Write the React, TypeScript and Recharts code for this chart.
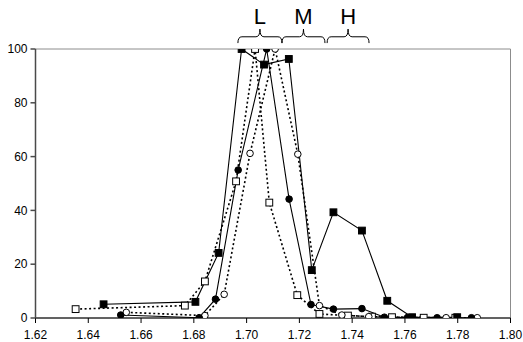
import React from 'react';
import { LineChart, Line, XAxis, YAxis, ReferenceArea } from 'recharts';

// Series: filled squares (solid line)
const filledSquareX = [1.6458, 1.6806, 1.6894, 1.6981, 1.7066, 1.7160, 1.7247, 1.7329, 1.7437, 1.7533, 1.7627, 1.7798];
const filledSquareY = [5.1, 6.0, 24.2, 100, 94.2, 96.3, 17.8, 39.3, 32.5, 6.4, 0.3, 0.3];

// Series: filled circles (solid line)
const filledCircleX = [1.6523, 1.6820, 1.6882, 1.6968, 1.7076, 1.7161, 1.7244, 1.7329, 1.7437, 1.7522, 1.7610, 1.7722, 1.7852];
const filledCircleY = [1.1, 0.1, 7.0, 55, 100, 44.2, 5.0, 3.3, 3.5, 0.3, 0.2, 0.1, 0.1];

// Series: open squares (dotted line)
const openSquareX = [1.6352, 1.6766, 1.6842, 1.6960, 1.7032, 1.7086, 1.7192, 1.7276, 1.7384, 1.7475, 1.7551, 1.7671, 1.7791];
const openSquareY = [3.3, 4.6, 13.6, 50.8, 100, 42.9, 8.5, 1.5, 0.9, 0.5, 0.3, 0.1, 0.1];

// Series: open circles (dotted line)
const openCircleX = [1.6544, 1.6842, 1.6915, 1.7013, 1.7108, 1.7194, 1.7276, 1.7361, 1.7463, 1.7756, 1.7874];
const openCircleY = [2.1, 0.9, 8.8, 61.2, 100, 60.9, 4.6, 1.1, 0.5, 0.1, 0.1];

const xTicks = [1.62, 1.64, 1.66, 1.68, 1.70, 1.72, 1.74, 1.76, 1.78, 1.80];
const yTicks = [0, 20, 40, 60, 80, 100];

// Brace annotations: label, start, end
const braceLabels = ['L', 'M', 'H'];
const braceStart = [1.6967, 1.7134, 1.7305];
const braceEnd = [1.7134, 1.7297, 1.7464];
const braceBottom = 102.2;
const braceTop = 107.4;

const zip = (xs: number[], ys: number[]) => xs.map((x, i) => ({ x, y: ys[i] }));

const FONT = 'Arial, "Liberation Sans", sans-serif';

const SquareDot = (filled: boolean) => (props: any) => {
  const { cx, cy, index } = props;
  if (cx == null || cy == null) return <g key={index} />;
  return (
    <rect
      key={index}
      x={cx - 3.4}
      y={cy - 3.4}
      width={6.8}
      height={6.8}
      fill={filled ? '#000' : '#fff'}
      stroke="#000"
      strokeWidth={1}
    />
  );
};

const CircleDot = (filled: boolean) => (props: any) => {
  const { cx, cy, index } = props;
  if (cx == null || cy == null) return <g key={index} />;
  return (
    <circle key={index} cx={cx} cy={cy} r={3.3} fill={filled ? '#000' : '#fff'} stroke="#000" strokeWidth={1} />
  );
};

const Brace = (label: string) => (props: any) => {
  const { x, y, width, height } = props;
  const cx = x + width / 2;
  const my = y + height * 0.55;
  const r = Math.min(4, width / 6);
  const d = `M ${x} ${y + height} Q ${x} ${my} ${x + r} ${my} L ${cx - r} ${my} Q ${cx} ${my} ${cx} ${y} Q ${cx} ${my} ${cx + r} ${my} L ${x + width - r} ${my} Q ${x + width} ${my} ${x + width} ${y + height}`;
  return (
    <g>
      <path d={d} fill="none" stroke="#000" strokeWidth={1} />
      <text x={cx} y={y - 5.5} textAnchor="middle" fontSize={22} fontFamily={FONT} fill="#000">
        {label}
      </text>
    </g>
  );
};

export default function App() {
  return (
    <div style={{ position: 'absolute', left: 0, top: 0, background: '#fff' }}>
      <LineChart width={523} height={342} margin={{ top: 49, right: 12.5, bottom: 0, left: 0 }}>
        <XAxis
          type="number"
          dataKey="x"
          domain={[1.62, 1.8]}
          ticks={xTicks}
          tickFormatter={(v: number) => v.toFixed(2)}
          height={24}
          allowDataOverflow
          tickSize={5}
          tickMargin={7}
          stroke="#000"
          tick={{ fill: '#000', fontSize: 12, fontFamily: FONT }}
        />
        <YAxis
          type="number"
          dataKey="y"
          domain={[0, 100]}
          ticks={yTicks}
          width={35.5}
          allowDataOverflow
          tickSize={5}
          tickMargin={3}
          stroke="#4a4a4a"
          strokeWidth={1.5}
          tick={{ fill: '#000', fontSize: 12, fontFamily: FONT }}
        />
        <ReferenceArea x1={1.62} x2={1.8} y1={0} y2={100} fill="none" stroke="#8c8c8c" strokeWidth={1} ifOverflow="visible" />
        {braceLabels.map((lab, i) => (
          <ReferenceArea
            key={lab}
            x1={braceStart[i]}
            x2={braceEnd[i]}
            y1={braceBottom}
            y2={braceTop}
            ifOverflow="visible"
            shape={Brace(lab)}
          />
        ))}
        <Line
          data={zip(openSquareX, openSquareY)}
          dataKey="y"
          type="linear"
          stroke="#000"
          strokeWidth={1.6}
          strokeDasharray="2 2.5"
          dot={SquareDot(false)}
          isAnimationActive={false}
        />
        <Line
          data={zip(openCircleX, openCircleY)}
          dataKey="y"
          type="linear"
          stroke="#000"
          strokeWidth={1.6}
          strokeDasharray="2 2.5"
          dot={CircleDot(false)}
          isAnimationActive={false}
        />
        <Line
          data={zip(filledCircleX, filledCircleY)}
          dataKey="y"
          type="linear"
          stroke="#000"
          strokeWidth={1.1}
          dot={CircleDot(true)}
          isAnimationActive={false}
        />
        <Line
          data={zip(filledSquareX, filledSquareY)}
          dataKey="y"
          type="linear"
          stroke="#000"
          strokeWidth={1.1}
          dot={SquareDot(true)}
          isAnimationActive={false}
        />
      </LineChart>
    </div>
  );
}
